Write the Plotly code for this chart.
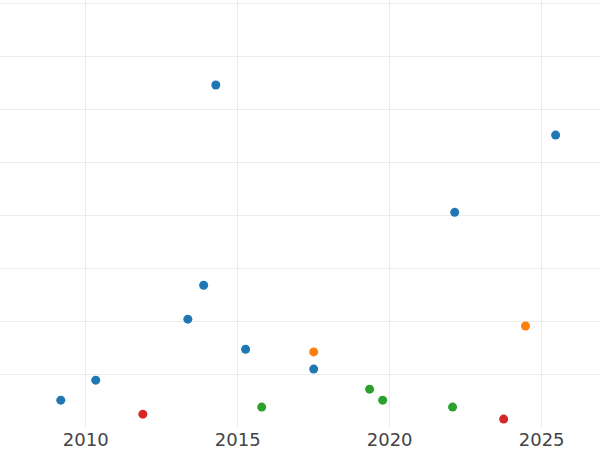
import plotly.graph_objects as go

blue_x = [2009.18, 2010.33, 2014.28, 2013.36, 2013.88, 2015.26, 2017.5, 2022.14, 2025.46]
blue_y = [5.08, 8.86, 64.67, 20.4, 26.8, 14.7, 10.95, 40.6, 55.2]
orange_x = [2017.5, 2024.47]
orange_y = [14.2, 19.1]
green_x = [2015.79, 2019.34, 2019.77, 2022.07]
green_y = [3.76, 7.16, 5.08, 3.76]
red_x = [2011.88, 2023.75]
red_y = [2.43, 1.49]

series = [
    (blue_x, blue_y, "#1f77b4"),
    (orange_x, orange_y, "#ff7f0e"),
    (green_x, green_y, "#2ca02c"),
    (red_x, red_y, "#d62728"),
]

fig = go.Figure()
for xs, ys, c in series:
    fig.add_trace(go.Scatter(x=xs, y=ys, mode="markers",
                             marker=dict(color=c, size=9, line=dict(width=0)),
                             showlegend=False))

fig.update_layout(
    width=600, height=450,
    margin=dict(l=0, r=0, t=0, b=23),
    paper_bgcolor="white", plot_bgcolor="white",
    font=dict(family="DejaVu Sans", size=18, color="#444"),
    xaxis=dict(range=[2007.18, 2026.92], tickvals=[2010, 2015, 2020, 2025],
               showgrid=True, gridcolor="#ebebeb", gridwidth=1,
               zeroline=False, showline=False, automargin=False,
               ticks="", tickfont=dict(size=18, color="#444")),
    yaxis=dict(range=[0, 80.75], dtick=10, showgrid=True, gridcolor="#ebebeb",
               gridwidth=1, zeroline=False, showline=False,
               showticklabels=False, automargin=False),
)

fig.write_html("out.html", config={"displayModeBar": False},
               post_script="document.body.style.margin='0';")
